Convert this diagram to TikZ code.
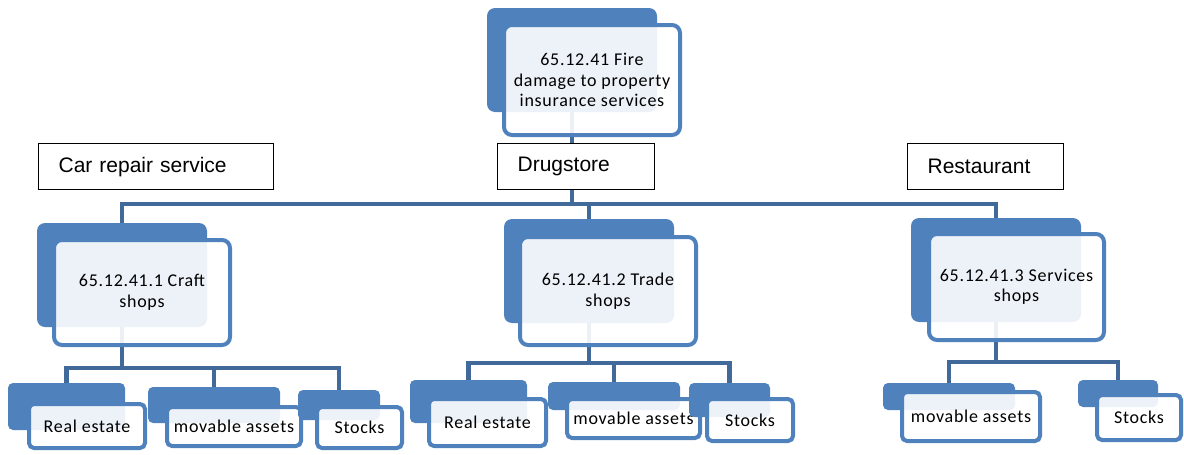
\documentclass[tikz,border=0pt]{standalone}
\usepackage{fontspec}
\setmainfont{Carlito}[LetterSpace=4.0]
\newfontfamily\arialfont{Liberation Sans}
\usepackage{tikz}
\usetikzlibrary{positioning, backgrounds}
\definecolor{cardblue}{HTML}{4F81BD}
\definecolor{linkblue}{HTML}{41699A}

\begin{document}
\begin{tikzpicture}[x=1pt, y=-1pt,
    backcard/.style={fill=cardblue, rounded corners=8pt, inner sep=0pt, outer sep=0pt},
    frontcard/.style={draw=cardblue, line width=4pt, fill=white, fill opacity=0.9, text opacity=1,
        rounded corners=8pt, inner sep=0pt, outer sep=0pt, align=center, font=\fontsize{18}{20.5}\selectfont},
    leafcard/.style={frontcard, rounded corners=5pt},
    labelbox/.style={draw=black, line width=1.3pt, fill=white, anchor=north west, minimum height=46pt,
        inner xsep=20pt, align=left, font=\arialfont\fontsize{21}{24}\selectfont},
    link/.style={draw=linkblue, line width=4.5pt}]
    \useasboundingbox (0,0) rectangle (1184,455);

    % main card
    \node[backcard, minimum width=170, minimum height=104] (topb) at (572,60) {};
    \node[frontcard, minimum width=176, minimum height=110] (topf) at (592,80) {65.12.41 Fire\\damage to property\\insurance services};

    % second level
    \node[backcard, minimum width=170, minimum height=104] (craftb) at (122,275) {};
    \node[frontcard, minimum width=176, minimum height=105] (craftf) at (142,292.5) {65.12.41.1 Craft\\shops};
    \node[backcard, minimum width=170, minimum height=104] (tradeb) at (589,271) {};
    \node[frontcard, minimum width=176, minimum height=108] (tradef) at (608,291) {65.12.41.2 Trade\\shops};
    \node[backcard, minimum width=170, minimum height=104] (servb) at (996,270) {};
    \node[frontcard, minimum width=175, minimum height=106] (servf) at (1016.5,287) {65.12.41.3 Services\\shops};

    % leaves: craft shops
    \node[backcard, rounded corners=5pt, minimum width=117, minimum height=47] (c1b) at (66.5,406.5) {};
    \node[leafcard, minimum width=116, minimum height=44] (c1f) at (87,426) {Real estate};
    \node[backcard, rounded corners=5pt, minimum width=132, minimum height=36] (c2b) at (214,405) {};
    \node[leafcard, minimum width=134, minimum height=39] (c2f) at (234,426.5) {movable assets};
    \node[backcard, rounded corners=5pt, minimum width=82, minimum height=30] (c3b) at (339,405) {};
    \node[leafcard, minimum width=85, minimum height=41] (c3f) at (359.5,427.5) {Stocks};

    % leaves: trade shops
    \node[backcard, rounded corners=5pt, minimum width=117, minimum height=43] (t1b) at (468.5,401.5) {};
    \node[leafcard, minimum width=117, minimum height=47] (t1f) at (487.5,422.5) {Real estate};
    \node[backcard, rounded corners=5pt, minimum width=132, minimum height=28] (t2b) at (614,396) {};
    \node[leafcard, minimum width=133, minimum height=39] (t2f) at (633.5,418.5) {movable assets};
    \node[backcard, rounded corners=5pt, minimum width=81, minimum height=34] (t3b) at (729.5,400) {};
    \node[leafcard, minimum width=86, minimum height=42] (t3f) at (750,420) {Stocks};

    % leaves: services shops
    \node[backcard, rounded corners=5pt, minimum width=132, minimum height=27] (s1b) at (949,396.5) {};
    \node[leafcard, minimum width=138, minimum height=49] (s1f) at (971,416.5) {movable assets};
    \node[backcard, rounded corners=5pt, minimum width=80, minimum height=27] (s2b) at (1118,393.5) {};
    \node[leafcard, minimum width=84, minimum height=45] (s2f) at (1139,417.5) {Stocks};

    % labels
    \node[labelbox, text width=195] (carlab) at (38,143) {Car repair service};
    \node[labelbox, text width=117] (druglab) at (497,143) {Drugstore};
    \node[labelbox, text width=116] (restlab) at (907,143) {Restaurant};

    % connectors
    \begin{scope}[on background layer]
        \coordinate (bus) at (0,204);
        \draw[link] (topb.south) -- (topb.south |- bus);
        \draw[link] (craftb.north) |- (servb.north |- bus) -- (servb.north);
        \draw[link] (tradeb.north) -- (tradeb.north |- bus);

        \coordinate (craftbus) at (0,368);
        \draw[link] (craftb.south) -- (craftb.south |- craftbus);
        \draw[link] (c1b.north) |- (c3b.north |- craftbus) -- (c3b.north);
        \draw[link] (c2b.north) -- (c2b.north |- craftbus);

        \coordinate (tradebus) at (0,363);
        \draw[link] (tradeb.south) -- (tradeb.south |- tradebus);
        \draw[link] (t1b.north) |- (t3b.north |- tradebus) -- (t3b.north);
        \draw[link] (t2b.north) -- (t2b.north |- tradebus);

        \coordinate (servbus) at (0,362);
        \draw[link] (servb.south) -- (servb.south |- servbus);
        \draw[link] (s1b.north) |- (s2b.north |- servbus) -- (s2b.north);
    \end{scope}
\end{tikzpicture}
\end{document}
